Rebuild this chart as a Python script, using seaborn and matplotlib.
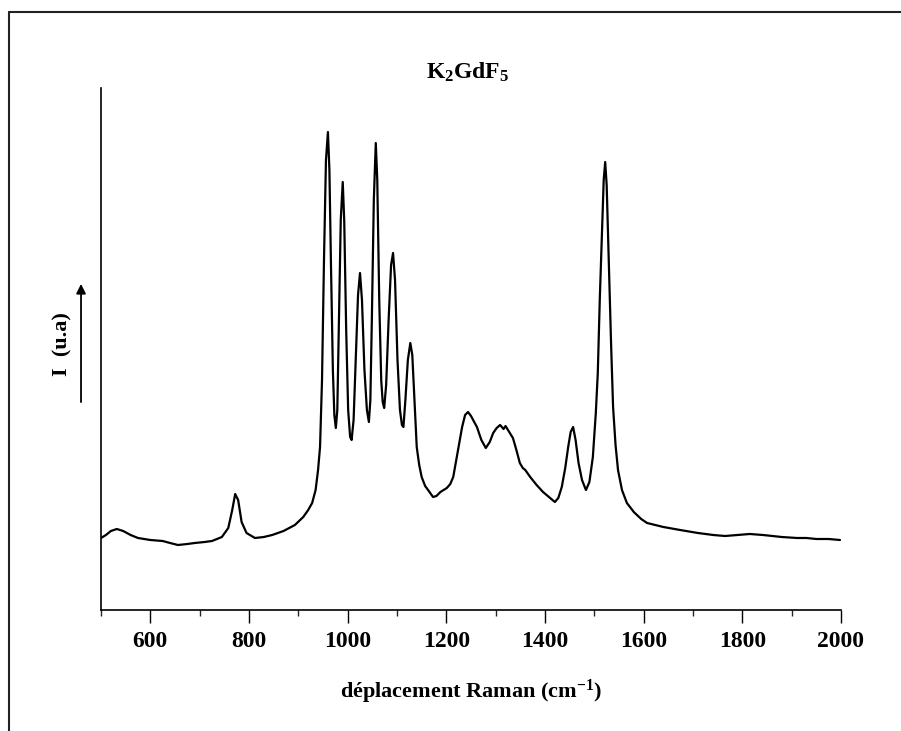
import numpy as np
import pandas as pd
import matplotlib
matplotlib.use("Agg")
import matplotlib.pyplot as plt
from matplotlib.lines import Line2D
import seaborn as sns

# Raman shift (cm-1) and intensity (arbitrary units)
shift = [500, 510, 520, 532, 545, 560, 575, 600, 625, 640, 656, 675, 690, 710, 725, 745, 758, 766, 772, 778,
         785, 795, 812, 830, 847, 870, 893, 910, 920, 928, 935, 940, 944, 948, 952, 956, 960, 963, 966, 970,
         973, 976, 979, 982, 986, 990, 993, 997, 1001, 1005, 1008, 1012, 1017, 1021, 1025, 1029, 1034, 1039,
         1043, 1046, 1049, 1053, 1057, 1060, 1064, 1068, 1071, 1074, 1078, 1083, 1088, 1092, 1096, 1101,
         1106, 1110, 1113, 1117, 1122, 1127, 1131, 1135, 1140, 1145, 1150, 1157, 1163, 1173, 1180, 1188,
         1201, 1208, 1214, 1222, 1232, 1238, 1244, 1250, 1262, 1271, 1280, 1288, 1295, 1302, 1309, 1316,
         1320, 1325, 1335, 1342, 1349, 1355, 1360, 1370, 1383, 1396, 1408, 1420, 1427, 1434, 1441, 1447,
         1452, 1457, 1462, 1468, 1475, 1483, 1490, 1497, 1503, 1507, 1511, 1515, 1519, 1522, 1525, 1530,
         1534, 1538, 1543, 1548, 1556, 1566, 1580, 1595, 1607, 1640, 1674, 1710, 1741, 1765, 1790, 1815,
         1842, 1860, 1880, 1911, 1930, 1950, 1975, 1998]
intensity = [72, 75, 79, 81, 79, 75, 72, 70, 69, 67, 65, 66, 67, 68, 69, 73, 82, 100, 116, 110,
             88, 77, 72, 73, 75, 79, 85, 93, 100, 107, 120, 140, 163, 230, 350, 450, 478, 440, 350, 240,
             195, 182, 200, 280, 390, 428, 390, 280, 200, 173, 170, 190, 260, 315, 337, 310, 240, 200,
             188, 210, 290, 410, 467, 430, 310, 230, 208, 202, 225, 290, 345, 357, 330, 250,
             200, 185, 183, 210, 250, 267, 255, 215, 163, 145, 133, 124, 120, 113, 114, 118,
             122, 126, 133, 155, 183, 195, 198, 194, 183, 170, 162, 168, 177, 182, 185, 181,
             184, 180, 172, 160, 147, 142, 140, 133, 125, 118, 113, 108, 112, 123, 142, 163,
             178, 183, 170, 147, 130, 120, 128, 153, 197, 237, 310, 370, 430, 448, 425, 337,
             265, 203, 165, 140, 120, 107, 98, 91, 87, 83, 80, 77, 75, 74, 75, 76,
             75, 74, 73, 72, 72, 71, 71, 70]

xticks = [600, 800, 1000, 1200, 1400, 1600, 1800, 2000]
xlabel = "déplacement Raman (cm$^{\\mathbf{-1}}$)"
ylabel = "I  (u.a)"
title = "$\\mathbf{K_2GdF_5}$"

df = pd.DataFrame({"shift": shift, "intensity": intensity})

sns.set_theme(style="ticks")
plt.rcParams["font.family"] = ["Liberation Serif", "DejaVu Serif"]
plt.rcParams["font.weight"] = "bold"
plt.rcParams["mathtext.fontset"] = "custom"
plt.rcParams["mathtext.rm"] = "Liberation Serif:bold"
plt.rcParams["mathtext.bf"] = "Liberation Serif:bold"
plt.rcParams["mathtext.it"] = "Liberation Serif:bold"

W, H = 901, 731
fig = plt.figure(figsize=(W / 100, H / 100), dpi=100)
ax = fig.add_axes([101 / W, (H - 610) / H, 740 / W, 522 / H])

sns.lineplot(data=df, x="shift", y="intensity", ax=ax, color="black", linewidth=1.6)

ax.set_xlim(500, 2000)
ax.set_ylim(0, 522)
ax.set_xticks(xticks)
ax.set_xticks([500, 700, 900, 1100, 1300, 1500, 1700, 1900], minor=True)
ax.set_yticks([])
ax.tick_params(axis="x", which="major", direction="out", length=9, width=1.0, pad=6,
               labelsize=17, colors="black")
ax.tick_params(axis="x", which="minor", direction="out", length=4, width=1.0)
for lab in ax.get_xticklabels():
    lab.set_fontweight("bold")
sns.despine(ax=ax)
for s in ["left", "bottom"]:
    ax.spines[s].set_linewidth(1.2)
    ax.spines[s].set_color("black")

ax.set_xlabel(xlabel, fontsize=16, fontweight="bold", labelpad=19, color="black")
ax.set_ylabel("")
fig.text(468 / W, 1 - 72 / H, title, ha="center", va="center", fontsize=17, color="black")

# y label and arrow
ax.text(-0.0527, 0.51, ylabel, transform=ax.transAxes, rotation=90, ha="center", va="center",
        fontsize=16, fontweight="bold", color="black")
ax.annotate("", xy=(-0.027, 0.63), xytext=(-0.027, 0.393), xycoords="axes fraction",
            textcoords="axes fraction", annotation_clip=False,
            arrowprops=dict(arrowstyle="-|>", color="black", lw=1.3, mutation_scale=14))

# outer frame (top and left edges visible)
fig.add_artist(Line2D([8.5 / W, 8.5 / W], [0, 1 - 11.5 / H], transform=fig.transFigure,
                      color="#222222", lw=1.5))
fig.add_artist(Line2D([8.5 / W, 1], [1 - 11.5 / H, 1 - 11.5 / H], transform=fig.transFigure,
                      color="#222222", lw=1.5))

fig.savefig("out.png", dpi=100, facecolor="white")
